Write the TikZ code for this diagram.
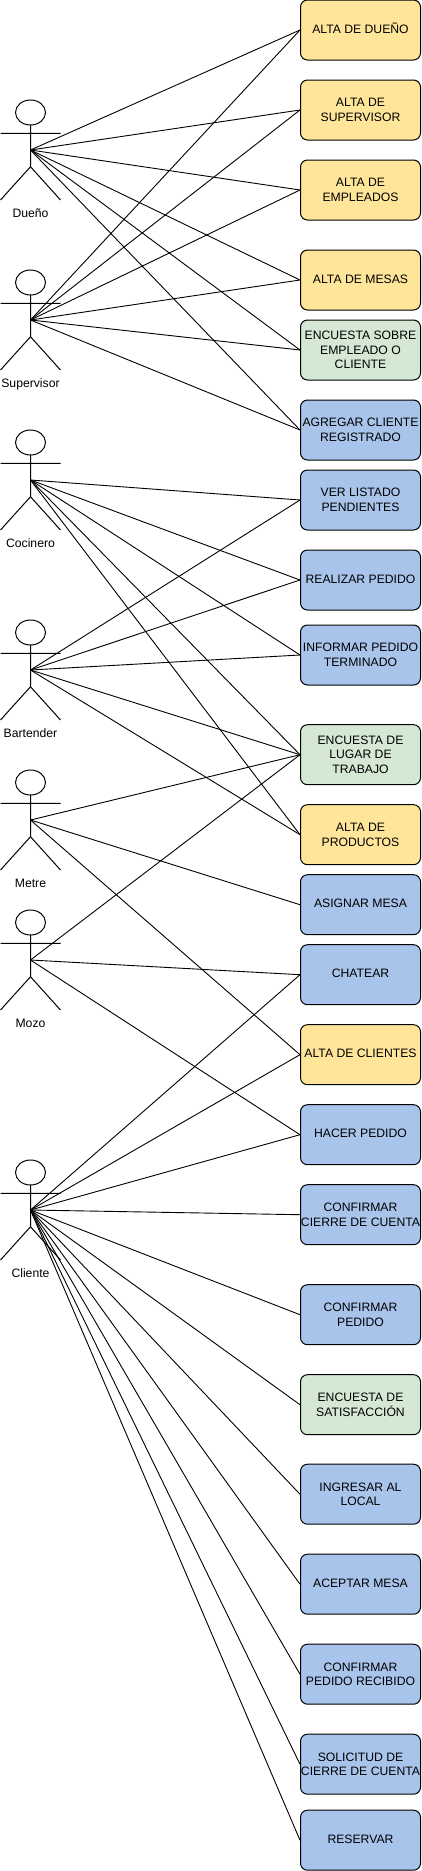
\documentclass[tikz,border=0pt]{standalone}
\usepackage{fontspec}
\setmainfont{Liberation Sans}
\usepackage{xcolor}
\usetikzlibrary{positioning}
\definecolor{altacolor}{HTML}{FFE599}
\definecolor{encuestacolor}{HTML}{D5E8D4}
\definecolor{accioncolor}{HTML}{A9C4EB}
\tikzset{
	usecase/.style={draw, rectangle, rounded corners=7pt, text centered, align=center, inner sep=0pt, minimum width=120pt, minimum height=60pt, line width=1pt, font=\fontsize{12.2}{14.6}\selectfont},
	oneline/.style={text height=9pt, text depth=2.5pt},
	altacase/.style={usecase, fill=altacolor},
	encuestacase/.style={usecase, fill=encuestacolor},
	accioncase/.style={usecase, fill=accioncolor},
	actorname/.style={text centered, inner sep=0pt, text height=9pt, text depth=3pt, font=\fontsize{12.2}{14.6}\selectfont},
	assoc/.style={line width=.9pt},
	pics/actor/.style={code={
		\draw[line width=1pt] (0,37.5) ellipse [x radius=15, y radius=12.5];
		\draw[line width=1pt] (0,25) -- (0,-16.7) (-30,16.7) -- (30,16.7) (-30,-50) -- (0,-16.7) -- (30,-50);
	}}
}

\begin{document}
\begin{tikzpicture}
			[x=1pt, y=1pt]
			\useasboundingbox (0,0) rectangle (421,-1871);
			% actors %
			\coordinate (dueno) at (30.5,-150);
			\coordinate (supervisor) at (30.5,-320);
			\coordinate (cocinero) at (30.5,-480);
			\coordinate (bartender) at (30.5,-670);
			\coordinate (metre) at (30.5,-820);
			\coordinate (mozo) at (30.5,-960);
			\coordinate (cliente) at (30.5,-1210);
			\pic at (dueno) {actor};
			\pic at (supervisor) {actor};
			\pic at (cocinero) {actor};
			\pic at (bartender) {actor};
			\pic at (metre) {actor};
			\pic at (mozo) {actor};
			\pic at (cliente) {actor};
			\node[actorname, node distance=64.7pt, below of = dueno] (nombredueno) {Dueño};
			\node[actorname, node distance=64.7pt, below of = supervisor] (nombresupervisor) {Supervisor};
			\node[actorname, node distance=64.7pt, below of = cocinero] (nombrecocinero) {Cocinero};
			\node[actorname, node distance=64.7pt, below of = bartender] (nombrebartender) {Bartender};
			\node[actorname, node distance=64.7pt, below of = metre] (nombremetre) {Metre};
			\node[actorname, node distance=64.7pt, below of = mozo] (nombremozo) {Mozo};
			\node[actorname, node distance=64.7pt, below of = cliente] (nombrecliente) {Cliente};

			% nodes %
			\node[altacase, oneline] (altadueno) at (360.5,-30) {ALTA DE DUEÑO};
			\node[altacase, node distance=80pt, below of = altadueno] (altasupervisor) {ALTA DE\\SUPERVISOR};
			\node[altacase, node distance=80pt, below of = altasupervisor] (altaempleados) {ALTA DE\\EMPLEADOS};
			\node[altacase, oneline, node distance=90pt, below of = altaempleados] (altamesas) {ALTA DE MESAS};
			\node[encuestacase, node distance=70pt, below of = altamesas] (encuestaempleado) {ENCUESTA SOBRE\\EMPLEADO O\\CLIENTE};
			\node[accioncase, node distance=80pt, below of = encuestaempleado] (agregarcliente) {AGREGAR CLIENTE\\REGISTRADO};
			\node[accioncase, node distance=70pt, below of = agregarcliente] (verlistado) {VER LISTADO\\PENDIENTES};
			\node[accioncase, oneline, node distance=80pt, below of = verlistado] (realizarpedido) {REALIZAR PEDIDO};
			\node[accioncase, node distance=75pt, below of = realizarpedido] (informarpedido) {INFORMAR PEDIDO\\TERMINADO};
			\node[encuestacase, node distance=99.7pt, below of = informarpedido] (encuestalugar) {ENCUESTA DE\\LUGAR DE\\TRABAJO};
			\node[altacase, node distance=80pt, below of = encuestalugar] (altaproductos) {ALTA DE\\PRODUCTOS};
			\node[accioncase, oneline, node distance=70pt, below of = altaproductos] (asignarmesa) {ASIGNAR MESA};
			\node[accioncase, oneline, node distance=70pt, below of = asignarmesa] (chatear) {CHATEAR};
			\node[altacase, oneline, node distance=80pt, below of = chatear] (altaclientes) {ALTA DE CLIENTES};
			\node[accioncase, oneline, node distance=80pt, below of = altaclientes] (hacerpedido) {HACER PEDIDO};
			\node[accioncase, node distance=80pt, below of = hacerpedido] (confirmarcierre) {CONFIRMAR\\CIERRE DE CUENTA};
			\node[accioncase, node distance=100pt, below of = confirmarcierre] (confirmarpedido) {CONFIRMAR\\PEDIDO};
			\node[encuestacase, node distance=90pt, below of = confirmarpedido] (encuestasatisfaccion) {ENCUESTA DE\\SATISFACCIÓN};
			\node[accioncase, node distance=89.5pt, below of = encuestasatisfaccion] (ingresarlocal) {INGRESAR AL\\LOCAL};
			\node[accioncase, oneline, node distance=90pt, below of = ingresarlocal] (aceptarmesa) {ACEPTAR MESA};
			\node[accioncase, node distance=90pt, below of = aceptarmesa] (confirmarrecibido) {CONFIRMAR\\PEDIDO RECIBIDO};
			\node[accioncase, node distance=90pt, below of = confirmarrecibido] (solicitudcierre) {SOLICITUD DE\\CIERRE DE CUENTA};
			\node[accioncase, oneline, node distance=76pt, below of = solicitudcierre] (reservar) {RESERVAR};

			% edges %
			\draw[assoc] (dueno) -- (altadueno.west);
			\draw[assoc] (dueno) -- (altasupervisor.west);
			\draw[assoc] (dueno) -- (altaempleados.west);
			\draw[assoc] (dueno) -- (altamesas.west);
			\draw[assoc] (dueno) -- (encuestaempleado.west);
			\draw[assoc] (dueno) -- (agregarcliente.west);
			\draw[assoc] (supervisor) -- (altadueno.west);
			\draw[assoc] (supervisor) -- (altasupervisor.west);
			\draw[assoc] (supervisor) -- (altaempleados.west);
			\draw[assoc] (supervisor) -- (altamesas.west);
			\draw[assoc] (supervisor) -- (encuestaempleado.west);
			\draw[assoc] (supervisor) -- (agregarcliente.west);
			\draw[assoc] (cocinero) -- (verlistado.west);
			\draw[assoc] (cocinero) -- (realizarpedido.west);
			\draw[assoc] (cocinero) -- (informarpedido.west);
			\draw[assoc] (cocinero) -- (encuestalugar.west);
			\draw[assoc] (cocinero) -- (altaproductos.west);
			\draw[assoc] (bartender) -- (verlistado.west);
			\draw[assoc] (bartender) -- (realizarpedido.west);
			\draw[assoc] (bartender) -- (informarpedido.west);
			\draw[assoc] (bartender) -- (encuestalugar.west);
			\draw[assoc] (bartender) -- (altaproductos.west);
			\draw[assoc] (metre) -- (encuestalugar.west);
			\draw[assoc] (metre) -- (asignarmesa.west);
			\draw[assoc] (metre) -- (altaclientes.west);
			\draw[assoc] (mozo) -- (encuestalugar.west);
			\draw[assoc] (mozo) -- (chatear.west);
			\draw[assoc] (mozo) -- (hacerpedido.west);
			\draw[assoc] (cliente) -- (chatear.west);
			\draw[assoc] (cliente) -- (altaclientes.west);
			\draw[assoc] (cliente) -- (hacerpedido.west);
			\draw[assoc] (cliente) -- (confirmarcierre.west);
			\draw[assoc] (cliente) -- (confirmarpedido.west);
			\draw[assoc] (cliente) -- (encuestasatisfaccion.west);
			\draw[assoc] (cliente) -- (ingresarlocal.west);
			\draw[assoc] (cliente) -- (aceptarmesa.west);
			\draw[assoc] (cliente) -- (confirmarrecibido.west);
			\draw[assoc] (cliente) -- (solicitudcierre.west);
			\draw[assoc] (cliente) -- (reservar.west);
			\end{tikzpicture}
\end{document}
